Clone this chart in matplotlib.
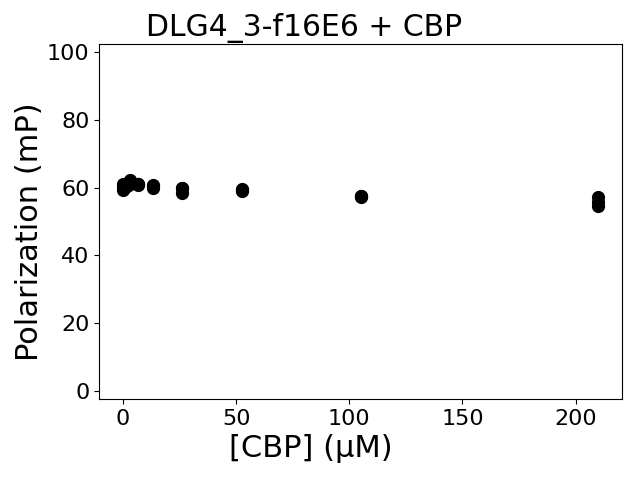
import matplotlib
matplotlib.use("Agg")
import matplotlib.pyplot as plt

conc = [210, 210, 210, 105, 105, 105, 52.5, 52.5, 52.5, 26.25, 26.25, 26.25,
        13.125, 13.125, 13.125, 6.5625, 6.5625, 6.5625, 3.28, 3.28, 3.28,
        1.64, 1.64, 1.64, 0.82, 0.82, 0.82, 0, 0, 0]
pol = [57.2, 55.8, 54.7, 57.6, 57.2, 57.4, 59.5, 59.0, 59.2, 60.0, 58.3, 59.8,
       60.7, 60.0, 60.4, 61.0, 60.8, 61.2, 62.3, 61.0, 61.6, 60.5, 61.0, 60.8,
       61.0, 60.2, 60.6, 59.3, 61.0, 60.3]

fig, ax = plt.subplots(figsize=(6.4, 4.8), dpi=100)
fig.subplots_adjust(left=0.155, right=0.972, top=0.908, bottom=0.169)
ax.plot(conc, pol, 'o', color='black', markersize=8.5)
ax.set_xlim(-10.5, 220.5)
ax.set_ylim(-2.4, 102.4)
ax.set_title("DLG4_3-f16E6 + CBP", fontsize=21.5, x=0.392)
ax.set_xlabel("[CBP] (μM)", fontsize=22, x=0.405)
ax.set_ylabel("Polarization (mP)", fontsize=22, y=0.47, labelpad=2)
ax.tick_params(labelsize=16)
fig.savefig("out.png")
